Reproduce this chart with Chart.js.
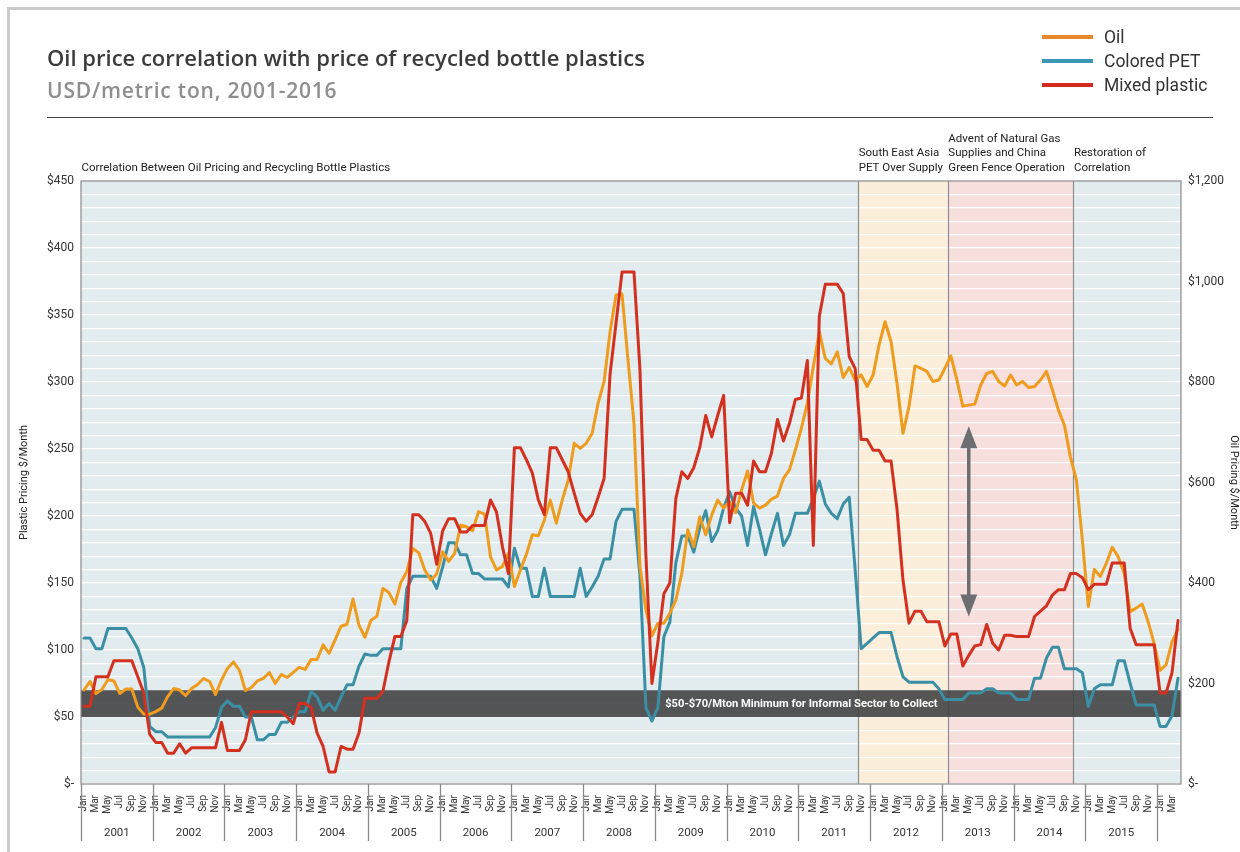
<!DOCTYPE html>
<html>
<head>
<meta charset="utf-8">
<script src="https://cdn.jsdelivr.net/npm/chart.js@4.4.1/dist/chart.umd.min.js"></script>
<style>
  html,body{margin:0;padding:0;background:#fff;width:1240px;height:852px;overflow:hidden;}
  #frame{position:absolute;left:7px;top:7px;width:1240px;height:852px;border-left:3px solid #cacacc;border-top:3px solid #cacacc;}
  #c{position:absolute;left:0;top:0;}
  .hd{position:absolute;left:47px;font-family:"Open Sans",Lato,sans-serif;font-weight:600;white-space:nowrap;}
  #title{top:43px;font-size:22px;line-height:28px;color:#3b3b3b;letter-spacing:0px;}
  #sub{top:76px;font-size:21px;line-height:28px;color:#8e8e8e;letter-spacing:0.8px;}
  #rule{position:absolute;left:47px;top:117px;width:1166px;height:1px;background:#444;}
  #legend{position:absolute;left:1042px;top:25px;font-family:Roboto,sans-serif;font-size:17.5px;color:#333;}
  .li{height:24px;line-height:24px;white-space:nowrap;position:relative;}
  .sw{display:inline-block;width:51px;height:4px;vertical-align:middle;margin-right:11px;position:relative;top:-1px;}
</style>
</head>
<body>
<div id="frame"></div>
<canvas id="c" width="1240" height="852"></canvas>
<div class="hd" id="title">Oil price correlation with price of recycled bottle plastics</div>
<div class="hd" id="sub">USD/metric ton, 2001-2016</div>
<div id="rule"></div>
<div id="legend"></div>
<script>
// ---------- data ----------
const monthAbbr = ['Jan','Feb','Mar','Apr','May','Jun','Jul','Aug','Sep','Oct','Nov','Dec'];
const years = [2001,2002,2003,2004,2005,2006,2007,2008,2009,2010,2011,2012,2013,2014,2015,2016];

// Oil price (right axis), monthly Jan 2001 - Apr 2016
const oil = [187,204,180,188,208,205,180,189,189,153,139,139,
144,151,174,190,187,176,190,198,210,204,178,207,
230,243,226,186,192,205,210,222,200,218,212,222,
232,228,248,248,277,260,287,314,318,368,316,292,
326,334,389,381,358,401,423,469,460,426,406,418,
462,443,459,515,512,504,542,537,452,426,433,459,
393,426,457,496,494,525,565,519,565,605,678,668,
678,698,758,801,900,973,975,844,718,433,346,295,
320,320,340,366,419,506,472,532,496,535,565,549,
562,540,585,623,559,549,555,567,573,608,625,665,
708,758,831,900,847,836,860,809,829,803,814,791,
814,874,920,880,797,698,751,832,827,821,801,804,
827,852,805,752,754,756,794,817,821,801,792,814,
794,801,789,791,804,821,784,744,714,651,605,486,
353,427,413,439,471,452,419,343,350,358,323,280,
226,237,283,308];

// Colored PET (left axis)
const coloredPET = [109,109,101,101,116,116,116,116,109,101,87,43,
39,39,35,35,35,35,35,35,35,35,42,57,
62,58,58,50,50,33,33,37,37,46,46,50,
54,54,69,65,55,60,55,65,74,74,88,97,
96,96,101,101,101,101,146,155,155,155,155,146,
162,180,180,171,171,157,157,153,153,153,153,147,
176,161,161,140,140,161,140,140,140,140,140,161,
140,147,155,168,168,196,205,205,205,155,57,47,
57,110,121,165,185,185,173,191,204,181,189,206,
218,206,200,178,207,190,171,187,202,178,186,202,
202,202,213,226,209,202,198,209,214,160,101,105,
109,113,113,113,95,80,76,76,76,76,76,71,
63,63,63,63,68,68,68,71,71,68,68,68,
63,63,63,79,79,94,102,102,86,86,86,83,
58,71,74,74,74,92,92,75,59,59,59,59,
43,43,51,79];

// Mixed plastic (left axis)
const mixedPlastic = [58,58,80,80,80,92,92,92,92,80,68,37,
31,31,23,23,30,23,27,27,27,27,27,46,
25,25,25,33,54,54,54,54,54,54,50,45,
60,60,57,38,28,9,9,28,26,26,38,64,
64,64,69,91,110,110,122,201,201,196,187,164,
189,198,198,188,188,193,193,193,212,203,177,157,
251,251,242,232,212,201,251,251,242,233,217,202,
196,201,214,228,306,344,382,382,382,309,170,75,
106,142,150,213,233,228,236,251,275,259,275,290,
195,217,217,208,241,233,233,247,272,256,269,287,
288,316,178,349,373,373,373,366,319,310,257,257,
249,249,241,241,205,152,120,129,129,121,121,121,
103,112,112,88,96,103,104,119,105,100,111,111,
110,110,110,125,129,133,141,145,145,157,157,154,
145,149,149,149,165,165,165,116,104,104,104,104,
68,68,83,122];

const categories = years.flatMap(y => monthAbbr.map(m => m + ' ' + y)).slice(0, oil.length);

// Periods (start month), their shading and headings
const periodStarts = ['Jan 2001','Nov 2011','Feb 2013','Nov 2014'];
const periodFills  = ['#e2ecee','#fbeedb','#f7dfde','#e2ecee'];
const periodLabels = [
  ['Correlation Between Oil Pricing and Recycling Bottle Plastics'],
  ['South East Asia','PET Over Supply'],
  ['Advent of Natural Gas','Supplies and China','Green Fence Operation'],
  ['Restoration of','Correlation']
];
const bandRange = [50, 70];
const bandLabel = '$50-$70/Mton Minimum for Informal Sector to Collect';
const bandLabelAt = 'Jan 2011';
const arrowAt = 'May 2013';
const arrowRange = [125, 267];

const seriesNames = ['Oil','Colored PET','Mixed plastic'];
const lineColors  = ['#ee9b1e','#3b8fa5','#d3301f'];
const legendColors= ['#e8882a','#3b97b3','#d22a1e'];

// ---------- legend (HTML) ----------
const lg = document.getElementById('legend');
seriesNames.forEach((n,i)=>{
  const d = document.createElement('div'); d.className='li';
  const s = document.createElement('span'); s.className='sw'; s.style.background=legendColors[i];
  d.appendChild(s); d.appendChild(document.createTextNode(n)); lg.appendChild(d);
});

// ---------- plugin ----------
const deco = {
  id:'deco',
  beforeDraw(chart){
    const {ctx, chartArea:a, scales:{x}} = chart;
    const half = (x.getPixelForValue(1) - x.getPixelForValue(0)) / 2;
    const edge = lab => x.getPixelForValue(categories.indexOf(lab)) - half;
    ctx.save();
    periodStarts.forEach((s,i)=>{
      const x0 = edge(s);
      const x1 = i+1 < periodStarts.length ? edge(periodStarts[i+1]) : a.right;
      ctx.fillStyle = periodFills[i];
      ctx.fillRect(x0, a.top, x1-x0, a.bottom-a.top);
    });
    // headings
    ctx.fillStyle = '#222';
    ctx.font = '11.5px Roboto';
    ctx.textBaseline = 'middle';
    ctx.textAlign = 'left';
    periodLabels.forEach((lines,i)=>{
      const x0 = (i===0 ? a.left : edge(periodStarts[i])) + 0.5;
      const n = lines.length;
      lines.forEach((t,j)=>{
        ctx.fillText(t, x0, a.top - 13 - (n-1-j)*14.5);
      });
    });
    ctx.restore();
  },
  beforeDatasetsDraw(chart){
    const {ctx, chartArea:a, scales:{x,y}} = chart;
    const half = (x.getPixelForValue(1) - x.getPixelForValue(0)) / 2;
    const edge = lab => x.getPixelForValue(categories.indexOf(lab)) - half;
    ctx.save();
    // region separators
    ctx.strokeStyle = '#8d8d8d'; ctx.lineWidth = 1.2;
    periodStarts.slice(1).forEach(s=>{
      const px = Math.round(edge(s)) + 0.5;
      ctx.beginPath(); ctx.moveTo(px, a.top); ctx.lineTo(px, a.bottom); ctx.stroke();
    });
    // band
    const yTop = y.getPixelForValue(bandRange[1]), yBot = y.getPixelForValue(bandRange[0]);
    ctx.fillStyle = 'rgba(66,68,69,0.9)';
    ctx.fillRect(a.left, yTop, a.right-a.left, yBot-yTop);
    ctx.fillStyle = '#fff';
    ctx.font = 'bold 11.2px Roboto';
    ctx.textAlign = 'center'; ctx.textBaseline = 'middle';
    ctx.fillText(bandLabel, x.getPixelForValue(categories.indexOf(bandLabelAt)), (yTop+yBot)/2 + 0.5);
    // border
    ctx.strokeStyle = '#8a8a8a'; ctx.lineWidth = 1.2;
    ctx.strokeRect(a.left, a.top, a.right-a.left, a.bottom-a.top);
    ctx.restore();
  },
  afterDatasetsDraw(chart){
    const {ctx, scales:{x,y}} = chart;
    const ax = x.getPixelForValue(categories.indexOf(arrowAt));
    const yt = y.getPixelForValue(arrowRange[1]), yb = y.getPixelForValue(arrowRange[0]);
    ctx.save();
    ctx.fillStyle = '#6c6e71'; ctx.strokeStyle = '#6c6e71';
    ctx.lineWidth = 3.5;
    ctx.beginPath(); ctx.moveTo(ax, yt+15); ctx.lineTo(ax, yb-15); ctx.stroke();
    ctx.beginPath(); ctx.moveTo(ax, yt); ctx.lineTo(ax+8.5, yt+22); ctx.lineTo(ax-8.5, yt+22); ctx.closePath(); ctx.fill();
    ctx.beginPath(); ctx.moveTo(ax, yb); ctx.lineTo(ax+8.5, yb-22); ctx.lineTo(ax-8.5, yb-22); ctx.closePath(); ctx.fill();
    ctx.restore();
  },
  afterDraw(chart){
    const {ctx, chartArea:a, scales:{x}} = chart;
    const half = (x.getPixelForValue(1) - x.getPixelForValue(0)) / 2;
    ctx.save();
    ctx.strokeStyle = '#8a8a8a'; ctx.lineWidth = 1.3;
    ctx.fillStyle = '#333'; ctx.font = '11.5px Roboto';
    ctx.textAlign = 'center'; ctx.textBaseline = 'middle';
    years.forEach((yr, k)=>{
      const i0 = k*12;
      if (i0 >= categories.length) return;
      const px = Math.round(x.getPixelForValue(i0) - half) + 0.5;
      ctx.beginPath(); ctx.moveTo(px, a.bottom); ctx.lineTo(px, a.bottom + 57); ctx.stroke();
      const i1 = i0 + 12;
      if (i1 <= categories.length) {
        const cx = (x.getPixelForValue(i0) + x.getPixelForValue(i1-1)) / 2;
        ctx.fillText(String(yr), cx, a.bottom + 49);
      }
    });
    ctx.restore();
  }
};

const fmtL = v => v === 0 ? '$-' : '$' + v;
const fmtR = v => v === 0 ? '$-' : '$' + v.toLocaleString('en-US');

new Chart(document.getElementById('c'), {
  type:'line',
  data:{
    labels: categories,
    datasets:[
      {label:seriesNames[2], data:mixedPlastic, borderColor:lineColors[2], yAxisID:'y', order:0},
      {label:seriesNames[0], data:oil, borderColor:lineColors[0], yAxisID:'y2', order:1},
      {label:seriesNames[1], data:coloredPET, borderColor:lineColors[1], yAxisID:'y', order:2}
    ]
  },
  options:{
    responsive:false, animation:false, devicePixelRatio:1,
    layout:{padding:{top:181,left:0,right:0,bottom:0}},
    elements:{point:{radius:0}, line:{borderWidth:3, tension:0, borderJoinStyle:'round', borderCapStyle:'round'}},
    plugins:{legend:{display:false}, tooltip:{enabled:false}},
    scales:{
      x:{
        type:'category', offset:true,
        grid:{display:false}, border:{display:false},
        ticks:{autoSkip:false, minRotation:90, maxRotation:90, padding:3,
          color:'#333', font:{family:'Roboto', size:10},
          callback:(v,i)=> i%2===0 ? monthAbbr[i%12] : null},
        afterFit:s=>{s.height = 68;}
      },
      y:{
        position:'left', min:0, max:450,
        grid:{color:'#ffffff', lineWidth:1.3, drawTicks:false},
        border:{display:false},
        ticks:{stepSize:10, autoSkip:false, padding:7, color:'#333', font:{family:'Roboto', size:12},
          callback:v=> Math.round(v)%50===0 ? fmtL(Math.round(v)) : ''},
        title:{display:true, text:'Plastic Pricing $/Month', color:'#222',
          font:{family:'Roboto', size:11}, padding:{top:18,bottom:0}},
        afterFit:s=>{s.width = 81;}
      },
      y2:{
        position:'right', min:0, max:1200,
        grid:{display:false, drawTicks:false}, border:{display:false},
        ticks:{stepSize:200, autoSkip:false, padding:7, color:'#333', font:{family:'Roboto', size:12},
          callback:v=> fmtR(v)},
        title:{display:true, text:'Oil Pricing $/Month', color:'#222',
          font:{family:'Roboto', size:11}, padding:{top:0,bottom:0}},
        afterFit:s=>{s.width = 59;}
      }
    }
  },
  plugins:[deco]
});
</script>
</body>
</html>
